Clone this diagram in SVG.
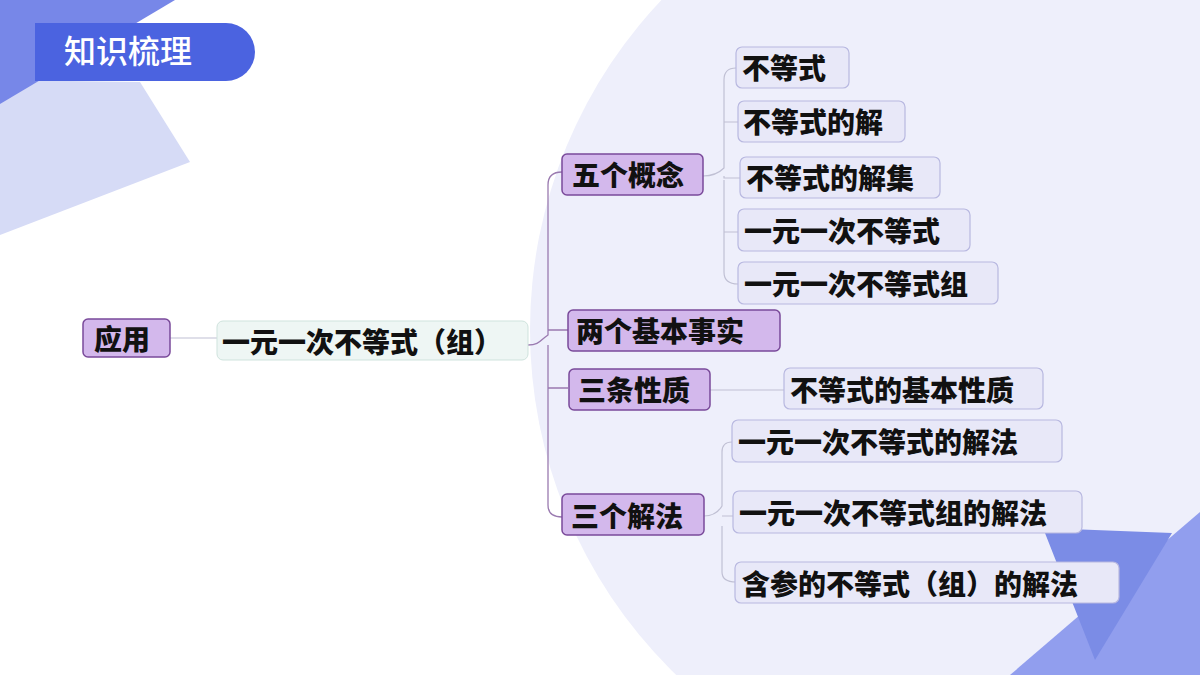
<svg xmlns="http://www.w3.org/2000/svg" width="1200" height="675" viewBox="0 0 1200 675">
<defs><style>
text{font-family:"Noto Sans CJK SC","Noto Sans",sans-serif;font-weight:900;font-size:28px;fill:#111}
.p{fill:#d3b8ec;stroke:#7a4a9a;stroke-width:1.5}
.l{fill:#e8e8f8;stroke:#b8b8e0;stroke-width:1.2}
.c{fill:none;stroke:#9a7ab0;stroke-width:1.3}
.cl{fill:none;stroke:#c0c0d4;stroke-width:1.2}
</style></defs>
<rect width="1200" height="675" fill="#fff"/>
<circle cx="1010" cy="330" r="480" fill="#eeeffb"/>
<polygon points="0,80 140,82 190,162 0,235" fill="#d6dbf6"/>
<polygon points="0,0 175,0 0,104" fill="#7787e8"/>
<polygon points="1010,675 1200,512 1200,675" fill="#919eee"/>
<polygon points="1043,528 1172,533 1095,660" fill="#7b8ce6"/>
<path d="M35,23 H226 A29,29 0 0 1 226,81 H35 Z" fill="#4b63e0"/>
<text x="64" y="63" style="fill:#fff;font-weight:500;font-size:32px">知识梳理</text>
<g id="connectors">
<path class="cl" d="M170,338 H218"/>
<path class="c" d="M528,345 C540,345 540,340 548,335 V185 Q548,172 562,172 M548,335 V330 H568 M548,345 V388 H568 M548,350 V505 Q548,517 562,517"/>
<path class="cl" d="M703,176 Q716,176 724,168 V80 Q724,68 736,68 M724,168 V122 H738 M724,176 V178 H740 M724,180 V232 H738 M724,184 V272 Q724,284 738,284"/>
<path class="cl" d="M710,390 H784"/>
<path class="cl" d="M704,516 Q716,516 722,506 V452 Q722,442 732,442 M722,516 H734 M722,526 V572 Q722,582 736,582"/>
</g>
<g id="n0"><rect class="p" x="83" y="319" width="87" height="38" rx="5"/><text x="94" y="350">应用</text></g>
<g id="n1"><rect x="217" y="321" width="311" height="39" rx="6" fill="#eef6f4" stroke="#cfe3dd"/><text x="222" y="353">一元一次不等式（组）</text></g>
<g id="n2"><rect class="p" x="562" y="154" width="141" height="41" rx="5"/><text x="572" y="186">五个概念</text></g>
<g id="n3"><rect class="p" x="568" y="310" width="212" height="41" rx="5"/><text x="576" y="342">两个基本事实</text></g>
<g id="n4"><rect class="p" x="569" y="369" width="141" height="41" rx="5"/><text x="578" y="401">三条性质</text></g>
<g id="n5"><rect class="p" x="562" y="494" width="142" height="41" rx="5"/><text x="571" y="527">三个解法</text></g>
<g id="n6"><rect class="l" x="736" y="47" width="113" height="41" rx="6"/><text x="742" y="79">不等式</text></g>
<g id="n7"><rect class="l" x="738" y="101" width="167" height="41" rx="6"/><text x="743" y="133">不等式的解</text></g>
<g id="n8"><rect class="l" x="740" y="157" width="200" height="41" rx="6"/><text x="746" y="189">不等式的解集</text></g>
<g id="n9"><rect class="l" x="738" y="209" width="232" height="42" rx="6"/><text x="744" y="242">一元一次不等式</text></g>
<g id="n10"><rect class="l" x="738" y="262" width="260" height="42" rx="6"/><text x="744" y="295">一元一次不等式组</text></g>
<g id="n11"><rect class="l" x="784" y="368" width="259" height="41" rx="6"/><text x="790" y="401">不等式的基本性质</text></g>
<g id="n12"><rect class="l" x="732" y="420" width="330" height="42" rx="6"/><text x="738" y="453">一元一次不等式的解法</text></g>
<g id="n13"><rect class="l" x="733" y="491" width="349" height="42" rx="6"/><text x="739" y="524">一元一次不等式组的解法</text></g>
<g id="n14"><rect class="l" x="735" y="562" width="384" height="41" rx="6"/><text x="742" y="595">含参的不等式（组）的解法</text></g>
</svg>
